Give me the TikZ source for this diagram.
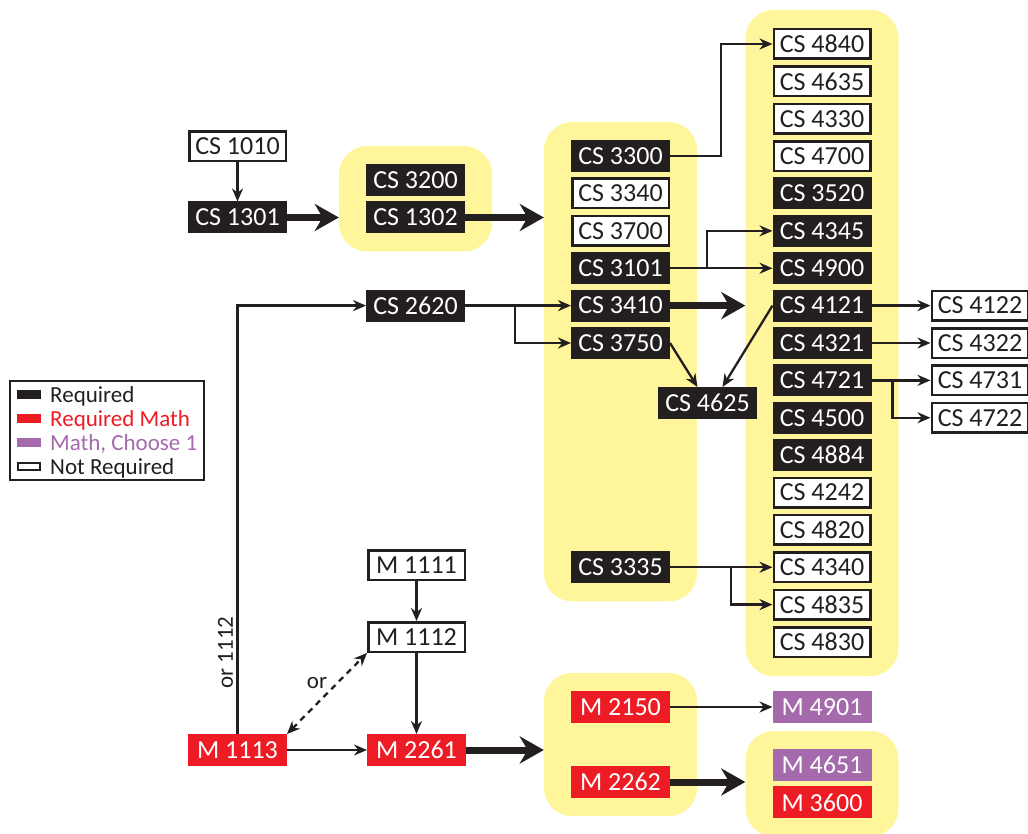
\documentclass[tikz,border=0pt]{standalone}
\usepackage{fontspec}
\setmainfont{Carlito}
\usetikzlibrary{arrows.meta, positioning, fit, backgrounds}
\definecolor{courseBlack}{RGB}{35, 31, 32}
\definecolor{mathRed}{RGB}{237, 28, 36}
\definecolor{choosePurple}{RGB}{164, 106, 172}
\definecolor{groupYellow}{RGB}{255, 246, 155}
\tikzset{
    % Base Course Style
    course/.style={
        rectangle,
        minimum width=99pt,
        minimum height=32pt,
        inner sep=0pt,
        outer sep=0pt,
        font=\fontsize{26}{28}\selectfont
    },
    % Specific Role Styles
    reqBox/.style={course, fill=courseBlack, text=white},
    mathBox/.style={course, fill=mathRed, text=white},
    chooseBox/.style={course, fill=choosePurple, text=white},
    optBox/.style={course, fill=white, draw=courseBlack, line width=2.5pt, minimum width=96.5pt, minimum height=29.5pt, outer sep=1.25pt, text=courseBlack},
    % Group, Arrow & Label Styles
    courseGroup/.style={rectangle, rounded corners=28pt, fill=groupYellow, inner xsep=27pt, inner ysep=18pt},
    arrow/.style={-{Stealth[length=13pt, width=11pt]}, line width=2.3pt, draw=courseBlack},
    bigArrow/.style={-{Stealth[length=24pt, width=27pt]}, line width=7pt, draw=courseBlack},
    orArrow/.style={{Stealth[length=13pt, width=11pt]}-{Stealth[length=13pt, width=11pt]}, line width=2.3pt, draw=courseBlack, dash pattern=on 6pt off 5pt},
    noteLabel/.style={font=\fontsize{23}{25}\selectfont, text=courseBlack},
    keySwatch/.style={rectangle, minimum width=24pt, minimum height=9pt, inner sep=0pt}
}

\begin{document}
\begin{tikzpicture}[
    x=1pt, y=-1pt,
    node distance=5.375pt and 102.5pt
]
    \useasboundingbox (0,0) rectangle (1028,834);

    % --- RIGHT COLUMN (4000 level) ---
    \node (cs4840) [optBox] at (822,44) {CS 4840};
    \node (cs4635) [optBox, below=of cs4840] {CS 4635};
    \node (cs4330) [optBox, below=of cs4635] {CS 4330};
    \node (cs4700) [optBox, below=of cs4330] {CS 4700};
    \node (cs3520) [reqBox, below=of cs4700] {CS 3520};
    \node (cs4345) [reqBox, below=of cs3520] {CS 4345};
    \node (cs4900) [reqBox, below=of cs4345] {CS 4900};
    \node (cs4121) [reqBox, below=of cs4900] {CS 4121};
    \node (cs4321) [reqBox, below=of cs4121] {CS 4321};
    \node (cs4721) [reqBox, below=of cs4321] {CS 4721};
    \node (cs4500) [reqBox, below=of cs4721] {CS 4500};
    \node (cs4884) [reqBox, below=of cs4500] {CS 4884};
    \node (cs4242) [optBox, below=of cs4884] {CS 4242};
    \node (cs4820) [optBox, below=of cs4242] {CS 4820};
    \node (cs4340) [optBox, below=of cs4820] {CS 4340};
    \node (cs4835) [optBox, below=of cs4340] {CS 4835};
    \node (cs4830) [optBox, below=of cs4835] {CS 4830};

    % --- MIDDLE COLUMN (3000 level) ---
    \node (cs3300) [reqBox, left=of cs4700] {CS 3300};
    \node (cs3340) [optBox, below=of cs3300] {CS 3340};
    \node (cs3700) [optBox, below=of cs3340] {CS 3700};
    \node (cs3101) [reqBox, below=of cs3700] {CS 3101};
    \node (cs3410) [reqBox, below=of cs3101] {CS 3410};
    \node (cs3750) [reqBox, below=of cs3410] {CS 3750};
    \node (cs3335) [reqBox, left=of cs4340] {CS 3335};
    \node (cs4625) [reqBox] at (707.5,403) {CS 4625};

    % --- FAR RIGHT (follow-ups) ---
    \node (cs4122) [optBox, right=59pt of cs4121] {CS 4122};
    \node (cs4322) [optBox, right=59pt of cs4321] {CS 4322};
    \node (cs4731) [optBox, right=59pt of cs4721] {CS 4731};
    \node (cs4722) [optBox, below=of cs4731] {CS 4722};

    % --- LEFT (intro sequence) ---
    \node (cs1301) [reqBox] at (237.5,217.5) {CS 1301};
    \node (cs1010) [optBox, above=39pt of cs1301] {CS 1010};
    \node (cs1302) [reqBox, right=79pt of cs1301] {CS 1302};
    \node (cs3200) [reqBox, above=of cs1302] {CS 3200};
    \node (cs2620) [reqBox, left=106pt of cs3410] {CS 2620};

    % --- MATH ---
    \node (m1113) [mathBox] at (237.5,750) {M 1113};
    \node (m2261) [mathBox, right=80pt of m1113] {M 2261};
    \node (m1112) [optBox, above=81pt of m2261] {M 1112};
    \node (m1111) [optBox, above=40pt of m1112] {M 1111};
    \node (m2150) [mathBox] at (620.5,707) {M 2150};
    \node (m2262) [mathBox, below=43pt of m2150] {M 2262};
    \node (m4901) [chooseBox, right=of m2150] {M 4901};
    \node (m4651) [chooseBox] at (822,765) {M 4651};
    \node (m3600) [mathBox, below=of m4651] {M 3600};

    % --- Background Grouping ---
    \begin{scope}[on background layer]
        \node (grpA) [courseGroup, fit=(cs3200)(cs1302)] {};
        \node (grpB) [courseGroup, fit=(cs3300)(cs3335)] {};
        \node (grpC) [courseGroup, fit=(cs4840)(cs4830)] {};
        \node (grpD) [courseGroup, fit=(m2150)(m2262)] {};
        \node (grpE) [courseGroup, fit=(m4651)(m3600)] {};
    \end{scope}

    % --- Arrows ---
    \draw [arrow] (cs1010) -- (cs1301);
    \draw [bigArrow] (cs1301) -- (grpA.west |- cs1301);
    \draw [bigArrow] (cs1302) -- (grpB.west |- cs1302);
    \draw [bigArrow] (cs3410) -- (grpC.west |- cs3410);
    \draw [bigArrow] (m2261) -- (grpD.west |- m2261);
    \draw [bigArrow] (m2262) -- (grpE.west |- m2262);

    \draw [arrow] (cs3300.east) -- ++(51,0) |- (cs4840.west);
    \coordinate (split1) at ([xshift=37pt]cs3101.east);
    \draw [arrow] (cs3101) -- (cs4900);
    \draw [arrow] (split1) |- (cs4345.west);

    \coordinate (split2) at ([xshift=50pt]cs2620.east);
    \draw [arrow] (cs2620) -- (cs3410);
    \draw [arrow] (split2) |- (cs3750.west);
    \draw [arrow] (cs3750.east) -- ([xshift=-10pt]cs4625.north);
    \draw [arrow] (cs4121.west) -- ([xshift=15pt]cs4625.north);

    \draw [arrow] (cs4121) -- (cs4122);
    \draw [arrow] (cs4321) -- (cs4322);
    \coordinate (split3) at ([xshift=21pt]cs4721.east);
    \draw [arrow] (cs4721) -- (cs4731);
    \draw [arrow] (split3) |- (cs4722.west);

    \coordinate (split4) at ([xshift=61pt]cs3335.east);
    \draw [arrow] (cs3335) -- (cs4340);
    \draw [arrow] (split4) |- (cs4835.west);

    \draw [arrow] (m2150) -- (m4901);
    \draw [arrow] (m1111) -- (m1112);
    \draw [arrow] (m1112) -- (m2261);
    \draw [arrow] (m1113) -- (m2261);
    \draw [arrow] (m1113.north) |- (cs2620.west)
        node (orNote) [noteLabel, pos=0.095, rotate=90, anchor=south] {or 1112};
    \draw [orArrow] (m1113.north east) -- (m1112.south west)
        node (orLabel) [noteLabel, midway, xshift=-10pt, yshift=11pt] {or};

    % --- Legend ---
    \node (legend) [draw=courseBlack, line width=2.3pt, minimum width=194pt, minimum height=99pt, inner sep=0pt] at (107,430.5) {};
    \node (keyReq) [keySwatch, fill=courseBlack] at (29,394.5) {};
    \node (keyMath) [keySwatch, fill=mathRed] at (29,418.5) {};
    \node (keyChoose) [keySwatch, fill=choosePurple] at (29,442.5) {};
    \node (keyOpt) [keySwatch, draw=courseBlack, line width=2pt, minimum width=22pt, minimum height=7pt] at (29,466.5) {};
    \node (txtReq) [noteLabel, anchor=base west, inner sep=0pt] at (50,402) {Required};
    \node (txtMath) [noteLabel, anchor=base west, inner sep=0pt, text=mathRed] at (50,426) {Required Math};
    \node (txtChoose) [noteLabel, anchor=base west, inner sep=0pt, text=choosePurple] at (50,450) {Math, Choose 1};
    \node (txtOpt) [noteLabel, anchor=base west, inner sep=0pt] at (50,474) {Not Required};

\end{tikzpicture}
\end{document}
